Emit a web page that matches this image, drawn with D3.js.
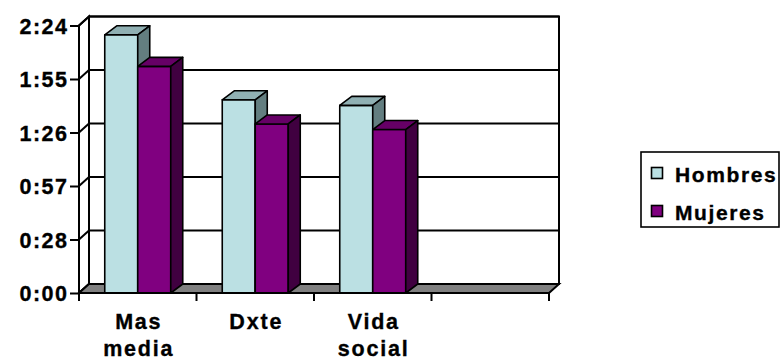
<!DOCTYPE html>
<html>
<head>
<meta charset="utf-8">
<script src="https://cdn.jsdelivr.net/npm/d3@7/dist/d3.min.js"></script>
<style>
  html, body { margin: 0; padding: 0; background: #fff; }
  svg { display: block; }
  text { font-family: "Liberation Sans", Arial, sans-serif; font-weight: bold; fill: #000; stroke: #000; stroke-width: 0.35px; }
</style>
</head>
<body>
<svg id="chart" width="781" height="360"></svg>
<script>
// Categories (the last slot is an empty category)
const categories = ["Mas media", "Dxte", "Vida social", ""];
// Time spent, in minutes
const hombres = [139, 104, 101];
const mujeres = [122, 91, 88];
const seriesNames = ["Hombres", "Mujeres"];
// Axis ticks, in minutes, and their h:mm labels
const tickValues = [0, 28.8, 57.6, 86.4, 115.2, 144];
const tickLabels = ["0:00", "0:28", "0:57", "1:26", "1:55", "2:24"];

const colors = {
  Hombres: { front: "#bbe0e3", top: "#90b0b3", side: "#637e80" },
  Mujeres: { front: "#800080", top: "#660066", side: "#400040" }
};

const svg = d3.select("#chart");

// Front plane of the plot and depth offset for the 3D walls / bars
const frontLeft = 79, frontRight = 549, frontBottom = 293, frontTop = 25.5;
const wallDx = 10, wallDy = -9;
const barDx = 12, barDy = -9;
const fontSize = 21.5;

const y = d3.scaleLinear().domain([0, 144]).range([frontBottom, frontTop]);
const x = d3.scaleBand().domain(categories).range([frontLeft, frontRight]).paddingInner(0).paddingOuter(0);
const groupWidth = 66;
const xs = d3.scaleBand().domain(seriesNames).range([0, groupWidth]);

const sw = 2;

// Back wall
svg.append("rect")
  .attr("x", frontLeft + wallDx).attr("y", y(144) + wallDy)
  .attr("width", frontRight - frontLeft).attr("height", y(0) - y(144))
  .attr("fill", "#fff").attr("stroke", "#000").attr("stroke-width", sw);

// Left side wall
svg.append("polygon")
  .attr("points", [
    [frontLeft, y(144)], [frontLeft + wallDx, y(144) + wallDy],
    [frontLeft + wallDx, y(0) + wallDy], [frontLeft, y(0)]
  ].map(p => p.join(",")).join(" "))
  .attr("fill", "#fff").attr("stroke", "#000").attr("stroke-width", sw);

// Gridlines on back wall and side wall
const grid = svg.append("g").attr("stroke", "#000").attr("stroke-width", sw).attr("fill", "none");
tickValues.forEach(t => {
  grid.append("line")
    .attr("x1", frontLeft + wallDx).attr("x2", frontRight + wallDx)
    .attr("y1", y(t) + wallDy).attr("y2", y(t) + wallDy);
  grid.append("line")
    .attr("x1", frontLeft).attr("x2", frontLeft + wallDx)
    .attr("y1", y(t)).attr("y2", y(t) + wallDy);
});

// Floor
svg.append("polygon")
  .attr("points", [
    [frontLeft, y(0)], [frontLeft + wallDx, y(0) + wallDy],
    [frontRight + wallDx, y(0) + wallDy], [frontRight, y(0)]
  ].map(p => p.join(",")).join(" "))
  .attr("fill", "#808080").attr("stroke", "#000").attr("stroke-width", sw);

// Bars
const barData = [];
categories.forEach((c, i) => {
  if (i < hombres.length) {
    barData.push({ cat: c, series: "Hombres", value: hombres[i] });
    barData.push({ cat: c, series: "Mujeres", value: mujeres[i] });
  }
});

const bars = svg.append("g").attr("stroke", "#000").attr("stroke-width", 1.6).attr("stroke-linejoin", "round");
barData.forEach(d => {
  const x0 = x(d.cat) + (x.bandwidth() - groupWidth) / 2 + xs(d.series);
  const x1 = x0 + xs.bandwidth();
  const yt = y(d.value), yb = y(0);
  const col = colors[d.series];
  const g = bars.append("g");
  g.append("rect")
    .attr("x", x0).attr("y", yt).attr("width", x1 - x0).attr("height", yb - yt)
    .attr("fill", col.front);
  g.append("polygon")
    .attr("points", [[x0, yt], [x0 + barDx, yt + barDy], [x1 + barDx, yt + barDy], [x1, yt]]
      .map(p => p.join(",")).join(" "))
    .attr("fill", col.top);
  g.append("polygon")
    .attr("points", [[x1, yt], [x1 + barDx, yt + barDy], [x1 + barDx, yb + barDy], [x1, yb]]
      .map(p => p.join(",")).join(" "))
    .attr("fill", col.side);
});

// Value axis (front)
const yAxis = d3.axisLeft(y)
  .tickValues(tickValues)
  .tickFormat((d, i) => tickLabels[i])
  .tickSize(9)
  .tickPadding(3);
const yg = svg.append("g").attr("transform", `translate(${frontLeft},0)`).call(yAxis);
yg.attr("font-family", null).attr("font-size", null);
yg.select(".domain").remove();
yg.append("line").attr("x1", 0).attr("x2", 0).attr("y1", y(144)).attr("y2", y(0) + 8)
  .attr("stroke", "#000").attr("stroke-width", sw);
yg.selectAll(".tick line").attr("stroke", "#000").attr("stroke-width", sw);
yg.selectAll(".tick text")
  .attr("font-size", fontSize).attr("letter-spacing", 1.5)
  .attr("dx", 1.5).attr("dy", "0.36em");

// Category axis (front baseline with ticks on band edges)
const xg = svg.append("g");
xg.append("line").attr("x1", frontLeft).attr("x2", frontRight)
  .attr("y1", y(0)).attr("y2", y(0)).attr("stroke", "#000").attr("stroke-width", sw);
const edges = categories.map(c => x(c)).concat([frontRight]);
xg.selectAll("line.edge").data(edges).join("line").attr("class", "edge")
  .attr("x1", d => d).attr("x2", d => d)
  .attr("y1", y(0)).attr("y2", y(0) + 8)
  .attr("stroke", "#000").attr("stroke-width", sw);

const labels = xg.selectAll("text.cat").data(categories.filter(c => c)).join("text")
  .attr("class", "cat")
  .attr("text-anchor", "middle")
  .attr("font-size", fontSize)
  .attr("letter-spacing", 1.8)
  .attr("y", 329);
labels.each(function (d) {
  const words = d.split(" ");
  const t = d3.select(this);
  words.forEach((w, i) => {
    t.append("tspan")
      .attr("x", x(d) + x.bandwidth() / 2 + 1)
      .attr("dy", i === 0 ? 0 : 27)
      .text(w);
  });
});

// Legend
const lg = svg.append("g");
lg.append("rect").attr("x", 641).attr("y", 152).attr("width", 138).attr("height", 75)
  .attr("fill", "#fff").attr("stroke", "#000").attr("stroke-width", 1.6);
seriesNames.forEach((s, i) => {
  const cy = 173.5 + i * 38;
  lg.append("rect").attr("x", 651.5).attr("y", cy - 6).attr("width", 11).attr("height", 11)
    .attr("fill", colors[s].front).attr("stroke", "#000").attr("stroke-width", 1.6);
  lg.append("text").attr("x", 675).attr("y", cy + 8)
    .attr("font-size", fontSize - 0.5).attr("letter-spacing", 1.6)
    .text(s);
});
</script>
</body>
</html>
